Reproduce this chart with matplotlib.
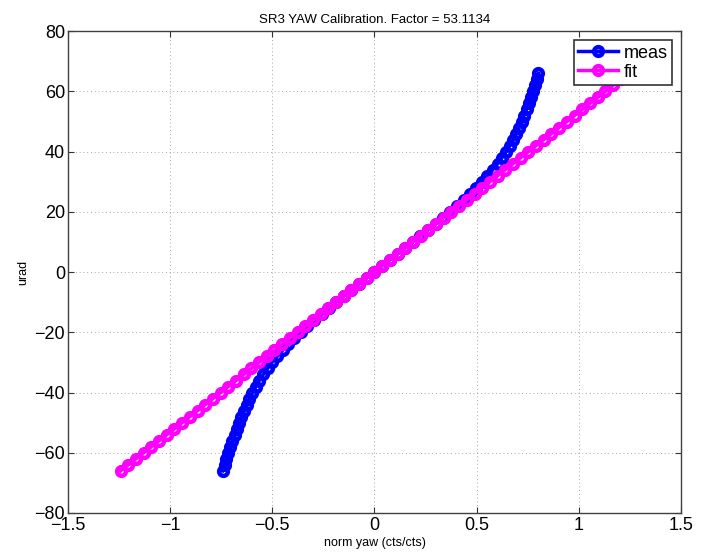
import matplotlib
matplotlib.use("Agg")
import matplotlib.pyplot as plt

plt.rcParams['font.family'] = ['Liberation Sans', 'DejaVu Sans']

# urad steps of the scan, measured normalised yaw and the linear fit
urad = [-66, -64, -62, -60, -58, -56, -54, -52, -50, -48, -46, -44, -42, -40,
        -38, -36, -34, -32, -30, -28, -26, -24, -22, -20, -18, -16, -14, -12,
        -10, -8, -6, -4, -2, 0, 2, 4, 6, 8, 10, 12, 14, 16, 18, 20, 22, 24,
        26, 28, 30, 32, 34, 36, 38, 40, 42, 44, 46, 48, 50, 52, 54, 56, 58,
        60, 62, 64, 66]
meas_yaw = [-0.743, -0.734, -0.725, -0.716, -0.706, -0.696, -0.685, -0.674,
            -0.663, -0.651, -0.639, -0.626, -0.612, -0.598, -0.581, -0.564,
            -0.544, -0.523, -0.502, -0.476, -0.450, -0.422, -0.392, -0.362,
            -0.328, -0.294, -0.259, -0.223, -0.187, -0.150, -0.113, -0.075,
            -0.038, 0.0, 0.038, 0.075, 0.113, 0.150, 0.188, 0.225, 0.262,
            0.299, 0.334, 0.370, 0.403, 0.436, 0.467, 0.497, 0.527, 0.553,
            0.579, 0.603, 0.624, 0.645, 0.662, 0.679, 0.694, 0.707, 0.720,
            0.732, 0.744, 0.755, 0.766, 0.777, 0.785, 0.794, 0.802]
fit_yaw = [-1.2426, -1.2050, -1.1673, -1.1297, -1.0920, -1.0543, -1.0167,
           -0.9790, -0.9414, -0.9037, -0.8661, -0.8284, -0.7908, -0.7531,
           -0.7155, -0.6778, -0.6401, -0.6025, -0.5648, -0.5272, -0.4895,
           -0.4519, -0.4142, -0.3766, -0.3389, -0.3012, -0.2636, -0.2259,
           -0.1883, -0.1506, -0.1130, -0.0753, -0.0377, 0.0, 0.0377, 0.0753,
           0.1130, 0.1506, 0.1883, 0.2259, 0.2636, 0.3012, 0.3389, 0.3766,
           0.4142, 0.4519, 0.4895, 0.5272, 0.5648, 0.6025, 0.6401, 0.6778,
           0.7155, 0.7531, 0.7908, 0.8284, 0.8661, 0.9037, 0.9414, 0.9790,
           1.0167, 1.0543, 1.0920, 1.1297, 1.1673, 1.2050, 1.2426]
factor = 53.1134

fig = plt.figure(figsize=(7.07, 5.57), dpi=100)
ax = fig.add_axes([0.0962, 0.079, 0.867, 0.865])

mk = dict(marker="o", markersize=6.3, markeredgewidth=3.2, markerfacecolor="none", lw=2.5)
ax.plot(meas_yaw, urad, color="#0000ff", label="meas", **mk)
ax.plot(fit_yaw, urad, color="#ff00ff", label="fit", **mk)

ax.set_xlim(-1.5, 1.5)
ax.set_ylim(-80, 80)
ax.set_xticks([-1.5, -1, -0.5, 0, 0.5, 1, 1.5])
ax.set_xticklabels(["\u22121.5", "\u22121", "\u22120.5", "0", "0.5", "1", "1.5"])
ax.set_yticks(range(-80, 81, 20))
ax.grid(True, linestyle=(0, (1, 3.5)), color="0.55", lw=0.6)
ax.tick_params(direction="in", top=True, right=True, labelsize=13, length=4, color="0.2", pad=2)
ax.tick_params(axis="x", pad=3)
for s in ax.spines.values():
    s.set_color("0.25")
    s.set_linewidth(1)

ax.set_title(f"SR3 YAW Calibration. Factor = {factor}", fontsize=9.5, pad=6)
ax.set_xlabel("norm yaw (cts/cts)", fontsize=9, labelpad=2)
ax.set_ylabel("urad", fontsize=9, labelpad=4)

leg = ax.legend(loc="upper right", fontsize=13, fancybox=False, framealpha=1,
                edgecolor="0.2", borderaxespad=0.5, handlelength=2.2,
                handletextpad=0.3, borderpad=0.25, labelspacing=0.1)
leg.get_frame().set_linewidth(1.2)

fig.savefig("out.png", dpi=100)
